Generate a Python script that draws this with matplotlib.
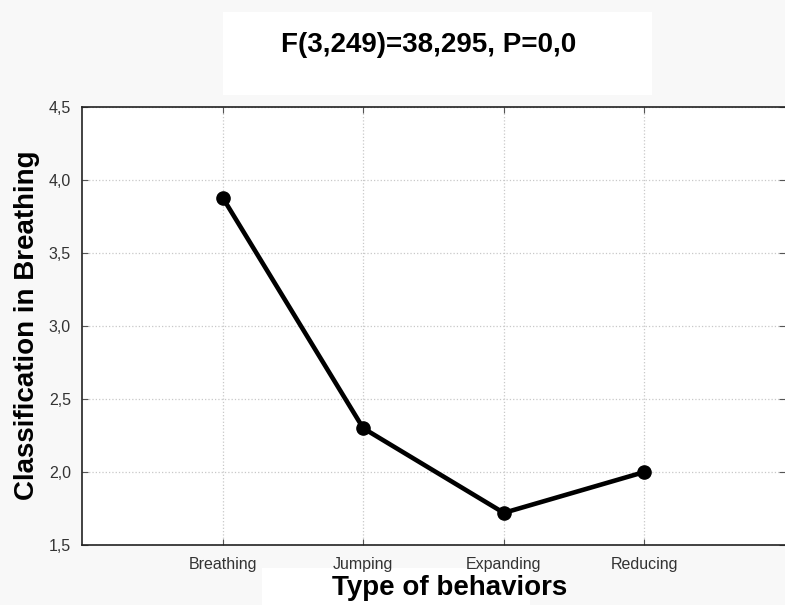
import matplotlib
matplotlib.use("Agg")
import matplotlib.pyplot as plt
from matplotlib.patches import Rectangle

categories = ["Breathing", "Jumping", "Expanding", "Reducing"]
values = [3.88, 2.30, 1.72, 2.00]
y_ticks = [1.5, 2.0, 2.5, 3.0, 3.5, 4.0, 4.5]
y_tick_labels = ["1,5", "2,0", "2,5", "3,0", "3,5", "4,0", "4,5"]
title = "F(3,249)=38,295, P=0,0"
xlabel = "Type of behaviors"
ylabel = "Classification in Breathing"

plt.rcParams['font.family'] = ['Liberation Sans', 'DejaVu Sans']

fig = plt.figure(figsize=(7.85, 6.05), dpi=100, facecolor='#f8f8f8')
# white boxes behind title and xlabel
fig.patches.append(Rectangle((223/785, 1-95/605), (652-223)/785, (95-12)/605,
                             transform=fig.transFigure, facecolor='white', edgecolor='none', zorder=-5))
fig.patches.append(Rectangle((262/785, 0), (530-262)/785, (605-568)/605,
                             transform=fig.transFigure, facecolor='white', edgecolor='none', zorder=-5))

ax = fig.add_axes([82/785, 60/605, 1 - 82/785, (545-107)/605])
ax.set_facecolor('white')

x = list(range(1, len(categories) + 1))
ax.plot(x, values, color='black', linewidth=3.3, marker='o', markersize=9.5, zorder=3)

ax.set_xlim(0, len(categories) + 1)
ax.set_ylim(1.5, 4.5)
ax.set_xticks(x)
ax.set_xticklabels(categories)
ax.set_yticks(y_ticks)
ax.set_yticklabels(y_tick_labels)

ax.grid(True, color='#c8c8c8', linestyle=':', linewidth=0.9)
ax.set_axisbelow(True)

for side in ['left', 'bottom', 'top']:
    ax.spines[side].set_color('#222222')
    ax.spines[side].set_linewidth(1.2)
ax.spines['right'].set_visible(False)

ax.tick_params(axis='both', which='both', direction='in', length=4, color='#555555',
               labelsize=11.5, labelcolor='#333333', top=True, right=True)
ax.tick_params(axis='x', pad=9)
ax.tick_params(axis='y', pad=8)

fig.text(429/785, 1 - 45/605, title, ha='center', va='center', fontsize=20, fontweight='bold')
fig.text(450/785, 1 - 588/605, xlabel, ha='center', va='center', fontsize=20, fontweight='bold')
fig.text(27/785, 1 - 325/605, ylabel, ha='center', va='center', rotation=90, fontsize=20, fontweight='bold')

fig.savefig("out.png", dpi=100, facecolor=fig.get_facecolor())
